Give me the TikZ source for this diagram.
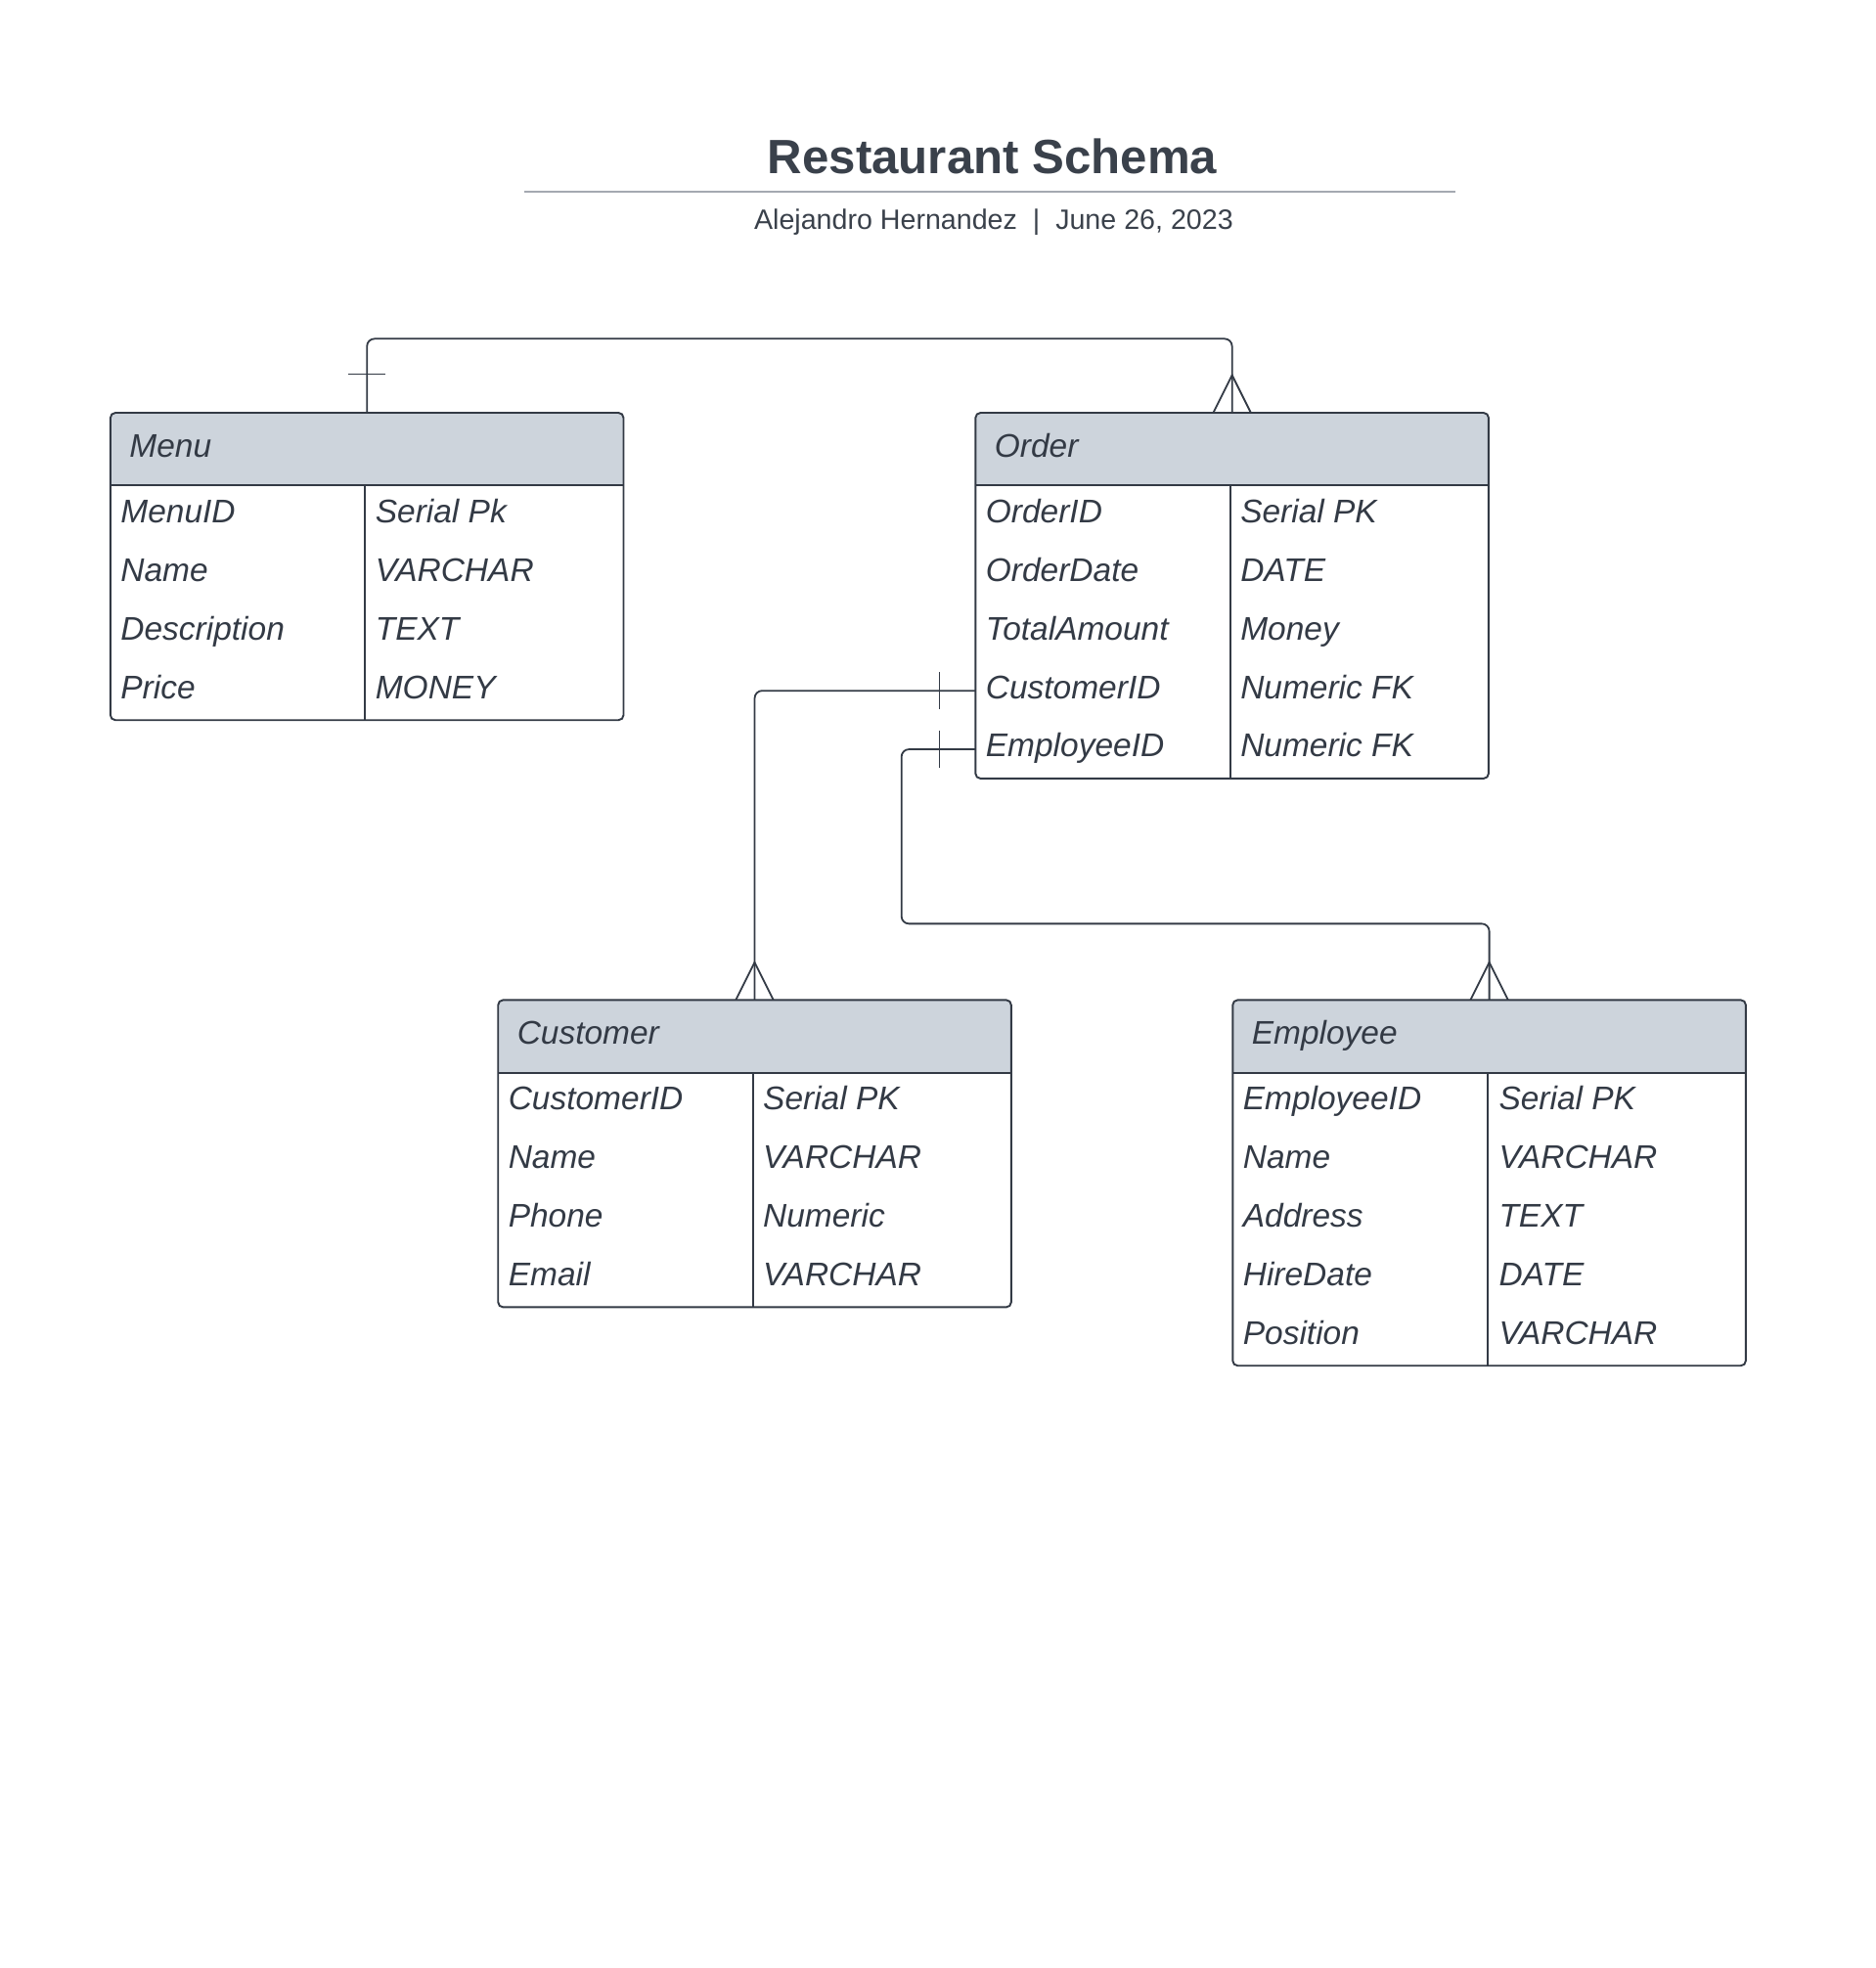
\documentclass[tikz,border=0pt]{standalone}
\usepackage{fontspec}
\setmainfont{Liberation Sans}
\usepackage{xcolor}
\usepackage{tikz}
\usetikzlibrary{calc}

\definecolor{ink}{HTML}{333A45}
\definecolor{titleink}{HTML}{3A414B}
\definecolor{headfill}{HTML}{CDD4DC}
\definecolor{rulegray}{HTML}{A4A9B1}

\begin{document}
\begin{tikzpicture}[x=1.0035pt, y=-1.0035pt,
    entity/.style={draw=ink, fill=white, line width=1.5pt, rounded corners=4pt, minimum width=410.4pt,
        anchor=north west, inner sep=0pt, outer sep=0pt,
        path picture={
            \fill[headfill, sharp corners] (path picture bounding box.north west) rectangle ([yshift=-58.2pt]path picture bounding box.north east);
            \draw[ink, line width=1.5pt, sharp corners] ([yshift=-58.2pt]path picture bounding box.north west) -- ([yshift=-58.2pt]path picture bounding box.north east);
            \draw[ink, line width=1.5pt, sharp corners] ([xshift=203.7pt,yshift=-58.2pt]path picture bounding box.north west) -- ([xshift=203.7pt]path picture bounding box.south west);
        }},
    field/.style={anchor=west, inner sep=0pt, text height=19pt, text depth=6.6pt,
        font=\fontsize{26.2}{31}\selectfont\itshape, text=ink},
    rel/.style={draw=ink, line width=1.4pt, rounded corners=6pt},
    crow/.style={draw=ink, line width=1.4pt},
    tick/.style={draw=ink, line width=1pt}]

    \useasboundingbox (0pt,0pt) rectangle (1500pt,-1574pt);

    % heading
    \node[font=\fontsize{38.5}{46}\selectfont\bfseries, text=titleink, anchor=base, inner sep=0pt] (title) at (791,138.5) {Restaurant Schema};
    \draw[rulegray, line width=2.2pt] (418,152.8) -- (1160,152.8);
    \node[font=\fontsize{22.4}{27}\selectfont, text=titleink, anchor=base, inner sep=0pt] (byline) at (792,182.6) {Alejandro Hernandez\ \ |\ \ June 26, 2023};

    % Menu
    \node[entity, minimum height=245.8pt] (menu) at (88,329) {};
    \node[field] (mhead) at (103,358) {Menu};
    \node[field] (mid) at (96,410.4) {MenuID};
    \node[field] (mname) at (96,457.1) {Name};
    \node[field] (mdesc) at (96,503.8) {Description};
    \node[field] (mprice) at (96,550.5) {Price};
    \node[field] (midt) at (299,410.4) {Serial Pk};
    \node[field] (mnamet) at (299,457.1) {VARCHAR};
    \node[field] (mdesct) at (299,503.8) {TEXT};
    \node[field] (mpricet) at (299,550.5) {MONEY};

    % Order
    \node[entity, minimum height=292.5pt] (order) at (777.5,329) {};
    \node[field] (ohead) at (792.5,358) {Order};
    \node[field] (oid) at (785.5,410.4) {OrderID};
    \node[field] (odate) at (785.5,457.1) {OrderDate};
    \node[field] (oamount) at (785.5,503.8) {TotalAmount};
    \node[field] (ocust) at (785.5,550.5) {CustomerID};
    \node[field] (oemp) at (785.5,597.2) {EmployeeID};
    \node[field] (oidt) at (988.5,410.4) {Serial PK};
    \node[field] (odatet) at (988.5,457.1) {DATE};
    \node[field] (oamountt) at (988.5,503.8) {Money};
    \node[field] (ocustt) at (988.5,550.5) {Numeric FK};
    \node[field] (oempt) at (988.5,597.2) {Numeric FK};

    % Customer
    \node[entity, minimum height=245.7pt] (customer) at (397,797) {};
    \node[field] (chead) at (412,826) {Customer};
    \node[field] (cid) at (405,878.4) {CustomerID};
    \node[field] (cname) at (405,925.1) {Name};
    \node[field] (cphone) at (405,971.8) {Phone};
    \node[field] (cmail) at (405,1018.5) {Email};
    \node[field] (cidt) at (608,878.4) {Serial PK};
    \node[field] (cnamet) at (608,925.1) {VARCHAR};
    \node[field] (cphonet) at (608,971.8) {Numeric};
    \node[field] (cmailt) at (608,1018.5) {VARCHAR};

    % Employee
    \node[entity, minimum height=292.5pt] (employee) at (982.5,797) {};
    \node[field] (ehead) at (997.5,826) {Employee};
    \node[field] (eid) at (990.5,878.4) {EmployeeID};
    \node[field] (ename) at (990.5,925.1) {Name};
    \node[field] (eaddr) at (990.5,971.8) {Address};
    \node[field] (ehire) at (990.5,1018.5) {HireDate};
    \node[field] (epos) at (990.5,1065.2) {Position};
    \node[field] (eidt) at (1194.5,878.4) {Serial PK};
    \node[field] (enamet) at (1194.5,925.1) {VARCHAR};
    \node[field] (eaddrt) at (1194.5,971.8) {TEXT};
    \node[field] (ehiret) at (1194.5,1018.5) {DATE};
    \node[field] (epost) at (1194.5,1065.2) {VARCHAR};

    % relations
    \draw[rel] (menu.north) -- ++(0,-59) -| (order.north);
    \draw[tick] ($(menu.north)+(-15,-31)$) -- ++(30,0);
    \draw[crow] ($(order.north)+(-15,0)$) -- ($(order.north)+(0,-30)$) -- ($(order.north)+(15,0)$);

    \draw[rel] (order.west |- ocust.west) -| (customer.north);
    \draw[tick] ($(order.west |- ocust.west)+(-29,-15)$) -- ++(0,30);
    \draw[crow] ($(customer.north)+(-15,0)$) -- ($(customer.north)+(0,-30)$) -- ($(customer.north)+(15,0)$);

    \draw[rel] (order.west |- oemp.west) -| ++(-59,139) -| (employee.north);
    \draw[tick] ($(order.west |- oemp.west)+(-29,-15)$) -- ++(0,30);
    \draw[crow] ($(employee.north)+(-15,0)$) -- ($(employee.north)+(0,-30)$) -- ($(employee.north)+(15,0)$);
\end{tikzpicture}
\end{document}
